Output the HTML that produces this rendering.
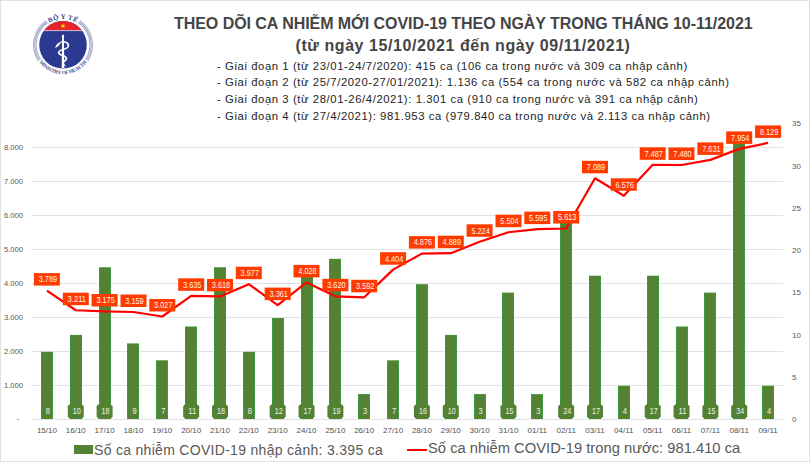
<!DOCTYPE html>
<html><head><meta charset="utf-8">
<style>
html,body{margin:0;padding:0;background:#fff;}
body{width:810px;height:462px;position:relative;overflow:hidden;font-family:"Liberation Sans",sans-serif;}
.frame{position:absolute;left:0;top:0;width:808px;height:460px;border:1px solid #e2e2e2;}
.t1{position:absolute;left:174px;top:14.8px;font-weight:bold;font-size:16px;letter-spacing:-0.05px;color:#454545;white-space:nowrap;}
.t2{position:absolute;left:295.5px;top:37px;font-weight:bold;font-size:16px;letter-spacing:0.57px;color:#454545;white-space:nowrap;}
.sub{position:absolute;left:217px;font-size:11.3px;letter-spacing:0.58px;color:#1e1e1e;white-space:nowrap;}
svg{position:absolute;left:0;top:0;}
.ax{font-size:8px;fill:#595959;}
.xl{font-size:8px;fill:#4f4f4f;}
.bl{font-size:8.5px;fill:#eef2e8;}
.ll{font-size:9px;fill:#fff3ee;}
.leg{position:absolute;top:441.3px;font-size:14px;color:#595959;white-space:nowrap;}
</style></head><body>
<div class="frame"></div>
<svg width="810" height="462" viewBox="0 0 810 462">
<g id="logo">
<defs>
<clipPath id="lc"><circle cx="63" cy="44.8" r="23.8"/></clipPath>
<path id="topArc" d="M37.2,44.8 A25.8,25.8 0 0 1 88.8,44.8"/>
<path id="botArc" d="M35.3,54.9 A29.5,29.5 0 0 0 90.7,54.9"/>
</defs>
<g fill="none" stroke="#a6abcb" stroke-width="1.05">
<path d="M47.57,22.76 A26.9,26.9 0 0 0 40.44,59.45"/>
<path d="M78.43,22.76 A26.9,26.9 0 0 1 85.56,59.45"/>
<path d="M46.83,21.70 A28.2,28.2 0 0 0 39.35,60.16"/>
<path d="M79.17,21.70 A28.2,28.2 0 0 1 86.65,60.16"/>
<path d="M46.08,20.64 A29.5,29.5 0 0 0 38.26,60.87"/>
<path d="M79.92,20.64 A29.5,29.5 0 0 1 87.74,60.87"/>
</g>
<circle cx="63" cy="44.8" r="23.8" fill="#2b3990"/>
<g clip-path="url(#lc)">
<rect x="38" y="20" width="50" height="10.2" fill="#e8242a"/>
<rect x="38" y="30.2" width="50" height="0.9" fill="#e6d0e0"/>
</g>
<path d="M63,23.3 l0.62,1.9 2,0 -1.62,1.18 0.62,1.9 -1.62,-1.18 -1.62,1.18 0.62,-1.9 -1.62,-1.18 2,0z" fill="#ffe600"/>
<text font-family="Liberation Serif" font-weight="bold" font-size="6.8" fill="#2f3b86" letter-spacing="0.3"><textPath href="#topArc" startOffset="50%" text-anchor="middle">BỘ Y TẾ</textPath></text>
<text font-family="Liberation Serif" font-weight="bold" font-size="5.2" fill="#45508f" letter-spacing="-0.15"><textPath href="#botArc" startOffset="50%" text-anchor="middle">MINISTRY OF HEALTH</textPath></text>
<path d="M62.1,36 L63.9,36 L64.3,68 L61.7,68 Z" fill="#fff"/>
<ellipse cx="63" cy="36.2" rx="1.15" ry="1.6" fill="#fff"/>
<path d="M61,41.8 C66,41.2 69.5,43.6 68,47 C66.5,50 58.5,49.2 58.6,52.6 C58.8,56 66.8,55 66.4,58.6 C66.2,61 63.5,61.5 62.5,62.5" fill="none" stroke="#fff" stroke-width="1.6"/>
<path d="M55,48 C55.8,44.6 58.5,42.4 61.2,41.8 C60.2,44.6 58,47 55,48z" fill="#fff"/>
<path d="M62,66 l2.5,-1.5 0.8,2" fill="none" stroke="#fff" stroke-width="0.9"/>
</g>

<rect x="32" y="385" width="751" height="1" fill="#e2e2e2"/>
<rect x="32" y="351" width="751" height="1" fill="#e2e2e2"/>
<rect x="32" y="317" width="751" height="1" fill="#e2e2e2"/>
<rect x="32" y="283" width="751" height="1" fill="#e2e2e2"/>
<rect x="32" y="249" width="751" height="1" fill="#e2e2e2"/>
<rect x="32" y="215" width="751" height="1" fill="#e2e2e2"/>
<rect x="32" y="181" width="751" height="1" fill="#e2e2e2"/>
<rect x="32" y="147" width="751" height="1" fill="#e2e2e2"/>
<text x="23" y="388.3" class="ax" text-anchor="end" textLength="19" lengthAdjust="spacingAndGlyphs">1.000</text>
<text x="23" y="354.2" class="ax" text-anchor="end" textLength="19" lengthAdjust="spacingAndGlyphs">2.000</text>
<text x="23" y="320.2" class="ax" text-anchor="end" textLength="19" lengthAdjust="spacingAndGlyphs">3.000</text>
<text x="23" y="286.2" class="ax" text-anchor="end" textLength="19" lengthAdjust="spacingAndGlyphs">4.000</text>
<text x="23" y="252.2" class="ax" text-anchor="end" textLength="19" lengthAdjust="spacingAndGlyphs">5.000</text>
<text x="23" y="218.2" class="ax" text-anchor="end" textLength="19" lengthAdjust="spacingAndGlyphs">6.000</text>
<text x="23" y="184.1" class="ax" text-anchor="end" textLength="19" lengthAdjust="spacingAndGlyphs">7.000</text>
<text x="23" y="150.1" class="ax" text-anchor="end" textLength="19" lengthAdjust="spacingAndGlyphs">8.000</text>
<text x="19.5" y="421.3" class="ax" text-anchor="end">-</text>
<text x="792" y="422.3" class="ax">0</text>
<text x="792" y="380.0" class="ax">5</text>
<text x="792" y="337.7" class="ax">10</text>
<text x="792" y="295.4" class="ax">15</text>
<text x="792" y="253.2" class="ax">20</text>
<text x="792" y="210.9" class="ax">25</text>
<text x="792" y="168.6" class="ax">30</text>
<text x="792" y="126.3" class="ax">35</text>
<rect x="41" y="351.8" width="12" height="67.2" fill="#3d9b3d"/>
<rect x="42" y="352.4" width="10" height="66.6" fill="#548235"/>
<rect x="70" y="334.9" width="12" height="84.1" fill="#3d9b3d"/>
<rect x="71" y="335.5" width="10" height="83.5" fill="#548235"/>
<rect x="99" y="267.3" width="12" height="151.7" fill="#3d9b3d"/>
<rect x="100" y="267.9" width="10" height="151.1" fill="#548235"/>
<rect x="127" y="343.4" width="12" height="75.6" fill="#3d9b3d"/>
<rect x="128" y="344.0" width="10" height="75.0" fill="#548235"/>
<rect x="156" y="360.3" width="12" height="58.7" fill="#3d9b3d"/>
<rect x="157" y="360.9" width="10" height="58.1" fill="#548235"/>
<rect x="185" y="326.5" width="12" height="92.5" fill="#3d9b3d"/>
<rect x="186" y="327.1" width="10" height="91.9" fill="#548235"/>
<rect x="214" y="267.3" width="12" height="151.7" fill="#3d9b3d"/>
<rect x="215" y="267.9" width="10" height="151.1" fill="#548235"/>
<rect x="243" y="351.8" width="12" height="67.2" fill="#3d9b3d"/>
<rect x="244" y="352.4" width="10" height="66.6" fill="#548235"/>
<rect x="272" y="318.0" width="12" height="101.0" fill="#3d9b3d"/>
<rect x="273" y="318.6" width="10" height="100.4" fill="#548235"/>
<rect x="301" y="275.7" width="12" height="143.3" fill="#3d9b3d"/>
<rect x="302" y="276.3" width="10" height="142.7" fill="#548235"/>
<rect x="329" y="258.8" width="12" height="160.2" fill="#3d9b3d"/>
<rect x="330" y="259.4" width="10" height="159.6" fill="#548235"/>
<rect x="358" y="394.1" width="12" height="24.9" fill="#3d9b3d"/>
<rect x="359" y="394.7" width="10" height="24.3" fill="#548235"/>
<rect x="387" y="360.3" width="12" height="58.7" fill="#3d9b3d"/>
<rect x="388" y="360.9" width="10" height="58.1" fill="#548235"/>
<rect x="416" y="284.2" width="12" height="134.8" fill="#3d9b3d"/>
<rect x="417" y="284.8" width="10" height="134.2" fill="#548235"/>
<rect x="445" y="334.9" width="12" height="84.1" fill="#3d9b3d"/>
<rect x="446" y="335.5" width="10" height="83.5" fill="#548235"/>
<rect x="474" y="394.1" width="12" height="24.9" fill="#3d9b3d"/>
<rect x="475" y="394.7" width="10" height="24.3" fill="#548235"/>
<rect x="502" y="292.6" width="12" height="126.4" fill="#3d9b3d"/>
<rect x="503" y="293.2" width="10" height="125.8" fill="#548235"/>
<rect x="531" y="394.1" width="12" height="24.9" fill="#3d9b3d"/>
<rect x="532" y="394.7" width="10" height="24.3" fill="#548235"/>
<rect x="560" y="216.5" width="12" height="202.5" fill="#3d9b3d"/>
<rect x="561" y="217.1" width="10" height="201.9" fill="#548235"/>
<rect x="589" y="275.7" width="12" height="143.3" fill="#3d9b3d"/>
<rect x="590" y="276.3" width="10" height="142.7" fill="#548235"/>
<rect x="618" y="385.7" width="12" height="33.3" fill="#3d9b3d"/>
<rect x="619" y="386.3" width="10" height="32.7" fill="#548235"/>
<rect x="647" y="275.7" width="12" height="143.3" fill="#3d9b3d"/>
<rect x="648" y="276.3" width="10" height="142.7" fill="#548235"/>
<rect x="676" y="326.5" width="12" height="92.5" fill="#3d9b3d"/>
<rect x="677" y="327.1" width="10" height="91.9" fill="#548235"/>
<rect x="704" y="292.6" width="12" height="126.4" fill="#3d9b3d"/>
<rect x="705" y="293.2" width="10" height="125.8" fill="#548235"/>
<rect x="733" y="133.0" width="12" height="286.0" fill="#3d9b3d"/>
<rect x="734" y="133.6" width="10" height="285.4" fill="#548235"/>
<rect x="762" y="385.7" width="12" height="33.3" fill="#3d9b3d"/>
<rect x="763" y="386.3" width="10" height="32.7" fill="#548235"/>
<rect x="32" y="419" width="751" height="1" fill="#e2e2e2"/>
<polyline points="46.92,290.58 75.77,310.25 104.62,311.47 133.46,312.02 162.31,316.51 191.15,295.82 220.00,296.40 248.85,284.18 277.69,305.14 306.54,282.45 335.38,296.33 364.23,297.28 393.08,269.65 421.92,253.59 450.77,253.15 479.62,241.75 508.46,232.23 537.31,229.13 566.15,228.52 595.00,178.30 623.85,195.75 652.69,164.75 681.54,164.99 710.38,159.86 739.23,148.87 768.08,142.91" fill="none" stroke="#f00" stroke-width="2.2" stroke-linejoin="round"/>
<text x="47.9" y="413.8" class="bl" text-anchor="middle" textLength="4.2" lengthAdjust="spacingAndGlyphs">8</text>
<path d="M69.97,404 H81.57 L83.77,406.2 V416.8 L81.57,419 H69.97 L67.77,416.8 V406.2 Z" fill="#548235"/>
<text x="76.8" y="413.8" class="bl" text-anchor="middle" textLength="8" lengthAdjust="spacingAndGlyphs">10</text>
<path d="M98.82,404 H110.42 L112.62,406.2 V416.8 L110.42,419 H98.82 L96.62,416.8 V406.2 Z" fill="#548235"/>
<text x="105.6" y="413.8" class="bl" text-anchor="middle" textLength="8" lengthAdjust="spacingAndGlyphs">18</text>
<text x="134.5" y="413.8" class="bl" text-anchor="middle" textLength="4.2" lengthAdjust="spacingAndGlyphs">9</text>
<text x="163.3" y="413.8" class="bl" text-anchor="middle" textLength="4.2" lengthAdjust="spacingAndGlyphs">7</text>
<path d="M185.35,404 H196.95 L199.15,406.2 V416.8 L196.95,419 H185.35 L183.15,416.8 V406.2 Z" fill="#548235"/>
<text x="192.2" y="413.8" class="bl" text-anchor="middle" textLength="8" lengthAdjust="spacingAndGlyphs">11</text>
<path d="M214.20,404 H225.80 L228.00,406.2 V416.8 L225.80,419 H214.20 L212.00,416.8 V406.2 Z" fill="#548235"/>
<text x="221.0" y="413.8" class="bl" text-anchor="middle" textLength="8" lengthAdjust="spacingAndGlyphs">18</text>
<text x="249.8" y="413.8" class="bl" text-anchor="middle" textLength="4.2" lengthAdjust="spacingAndGlyphs">8</text>
<path d="M271.89,404 H283.49 L285.69,406.2 V416.8 L283.49,419 H271.89 L269.69,416.8 V406.2 Z" fill="#548235"/>
<text x="278.7" y="413.8" class="bl" text-anchor="middle" textLength="8" lengthAdjust="spacingAndGlyphs">12</text>
<path d="M300.74,404 H312.34 L314.54,406.2 V416.8 L312.34,419 H300.74 L298.54,416.8 V406.2 Z" fill="#548235"/>
<text x="307.5" y="413.8" class="bl" text-anchor="middle" textLength="8" lengthAdjust="spacingAndGlyphs">17</text>
<path d="M329.58,404 H341.18 L343.38,406.2 V416.8 L341.18,419 H329.58 L327.38,416.8 V406.2 Z" fill="#548235"/>
<text x="336.4" y="413.8" class="bl" text-anchor="middle" textLength="8" lengthAdjust="spacingAndGlyphs">19</text>
<text x="365.2" y="413.8" class="bl" text-anchor="middle" textLength="4.2" lengthAdjust="spacingAndGlyphs">3</text>
<text x="394.1" y="413.8" class="bl" text-anchor="middle" textLength="4.2" lengthAdjust="spacingAndGlyphs">7</text>
<path d="M416.12,404 H427.72 L429.92,406.2 V416.8 L427.72,419 H416.12 L413.92,416.8 V406.2 Z" fill="#548235"/>
<text x="422.9" y="413.8" class="bl" text-anchor="middle" textLength="8" lengthAdjust="spacingAndGlyphs">16</text>
<path d="M444.97,404 H456.57 L458.77,406.2 V416.8 L456.57,419 H444.97 L442.77,416.8 V406.2 Z" fill="#548235"/>
<text x="451.8" y="413.8" class="bl" text-anchor="middle" textLength="8" lengthAdjust="spacingAndGlyphs">10</text>
<text x="480.6" y="413.8" class="bl" text-anchor="middle" textLength="4.2" lengthAdjust="spacingAndGlyphs">3</text>
<path d="M502.66,404 H514.26 L516.46,406.2 V416.8 L514.26,419 H502.66 L500.46,416.8 V406.2 Z" fill="#548235"/>
<text x="509.5" y="413.8" class="bl" text-anchor="middle" textLength="8" lengthAdjust="spacingAndGlyphs">15</text>
<text x="538.3" y="413.8" class="bl" text-anchor="middle" textLength="4.2" lengthAdjust="spacingAndGlyphs">3</text>
<path d="M560.35,404 H571.95 L574.15,406.2 V416.8 L571.95,419 H560.35 L558.15,416.8 V406.2 Z" fill="#548235"/>
<text x="567.2" y="413.8" class="bl" text-anchor="middle" textLength="8" lengthAdjust="spacingAndGlyphs">24</text>
<path d="M589.20,404 H600.80 L603.00,406.2 V416.8 L600.80,419 H589.20 L587.00,416.8 V406.2 Z" fill="#548235"/>
<text x="596.0" y="413.8" class="bl" text-anchor="middle" textLength="8" lengthAdjust="spacingAndGlyphs">17</text>
<text x="624.8" y="413.8" class="bl" text-anchor="middle" textLength="4.2" lengthAdjust="spacingAndGlyphs">4</text>
<path d="M646.89,404 H658.49 L660.69,406.2 V416.8 L658.49,419 H646.89 L644.69,416.8 V406.2 Z" fill="#548235"/>
<text x="653.7" y="413.8" class="bl" text-anchor="middle" textLength="8" lengthAdjust="spacingAndGlyphs">17</text>
<path d="M675.74,404 H687.34 L689.54,406.2 V416.8 L687.34,419 H675.74 L673.54,416.8 V406.2 Z" fill="#548235"/>
<text x="682.5" y="413.8" class="bl" text-anchor="middle" textLength="8" lengthAdjust="spacingAndGlyphs">11</text>
<path d="M704.58,404 H716.18 L718.38,406.2 V416.8 L716.18,419 H704.58 L702.38,416.8 V406.2 Z" fill="#548235"/>
<text x="711.4" y="413.8" class="bl" text-anchor="middle" textLength="8" lengthAdjust="spacingAndGlyphs">15</text>
<path d="M733.43,404 H745.03 L747.23,406.2 V416.8 L745.03,419 H733.43 L731.23,416.8 V406.2 Z" fill="#548235"/>
<text x="740.2" y="413.8" class="bl" text-anchor="middle" textLength="8" lengthAdjust="spacingAndGlyphs">34</text>
<text x="769.1" y="413.8" class="bl" text-anchor="middle" textLength="4.2" lengthAdjust="spacingAndGlyphs">4</text>
<rect x="33.9" y="273.1" width="26" height="12.5" fill="#ff3b00"/>
<text x="47.9" y="282.4" class="ll" text-anchor="middle" textLength="18.4" lengthAdjust="spacingAndGlyphs">3.789</text>
<rect x="62.8" y="292.7" width="26" height="12.5" fill="#ff3b00"/>
<text x="76.8" y="302.0" class="ll" text-anchor="middle" textLength="18.4" lengthAdjust="spacingAndGlyphs">3.211</text>
<rect x="91.6" y="294.0" width="26" height="12.5" fill="#ff3b00"/>
<text x="105.6" y="303.3" class="ll" text-anchor="middle" textLength="18.4" lengthAdjust="spacingAndGlyphs">3.175</text>
<rect x="120.5" y="294.5" width="26" height="12.5" fill="#ff3b00"/>
<text x="134.5" y="303.8" class="ll" text-anchor="middle" textLength="18.4" lengthAdjust="spacingAndGlyphs">3.159</text>
<rect x="149.3" y="299.0" width="26" height="12.5" fill="#ff3b00"/>
<text x="163.3" y="308.3" class="ll" text-anchor="middle" textLength="18.4" lengthAdjust="spacingAndGlyphs">3.027</text>
<rect x="178.2" y="278.3" width="26" height="12.5" fill="#ff3b00"/>
<text x="192.2" y="287.6" class="ll" text-anchor="middle" textLength="18.4" lengthAdjust="spacingAndGlyphs">3.635</text>
<rect x="207.0" y="278.9" width="26" height="12.5" fill="#ff3b00"/>
<text x="221.0" y="288.2" class="ll" text-anchor="middle" textLength="18.4" lengthAdjust="spacingAndGlyphs">3.618</text>
<rect x="235.8" y="266.7" width="26" height="12.5" fill="#ff3b00"/>
<text x="249.8" y="276.0" class="ll" text-anchor="middle" textLength="18.4" lengthAdjust="spacingAndGlyphs">3.977</text>
<rect x="264.7" y="287.6" width="26" height="12.5" fill="#ff3b00"/>
<text x="278.7" y="296.9" class="ll" text-anchor="middle" textLength="18.4" lengthAdjust="spacingAndGlyphs">3.361</text>
<rect x="293.5" y="264.9" width="26" height="12.5" fill="#ff3b00"/>
<text x="307.5" y="274.2" class="ll" text-anchor="middle" textLength="18.4" lengthAdjust="spacingAndGlyphs">4.028</text>
<rect x="322.4" y="278.8" width="26" height="12.5" fill="#ff3b00"/>
<text x="336.4" y="288.1" class="ll" text-anchor="middle" textLength="18.4" lengthAdjust="spacingAndGlyphs">3.620</text>
<rect x="351.2" y="279.8" width="26" height="12.5" fill="#ff3b00"/>
<text x="365.2" y="289.1" class="ll" text-anchor="middle" textLength="18.4" lengthAdjust="spacingAndGlyphs">3.592</text>
<rect x="380.1" y="252.2" width="26" height="12.5" fill="#ff3b00"/>
<text x="394.1" y="261.5" class="ll" text-anchor="middle" textLength="18.4" lengthAdjust="spacingAndGlyphs">4.404</text>
<rect x="408.9" y="236.1" width="26" height="12.5" fill="#ff3b00"/>
<text x="422.9" y="245.4" class="ll" text-anchor="middle" textLength="18.4" lengthAdjust="spacingAndGlyphs">4.876</text>
<rect x="437.8" y="235.7" width="26" height="12.5" fill="#ff3b00"/>
<text x="451.8" y="245.0" class="ll" text-anchor="middle" textLength="18.4" lengthAdjust="spacingAndGlyphs">4.889</text>
<rect x="466.6" y="224.3" width="26" height="12.5" fill="#ff3b00"/>
<text x="480.6" y="233.6" class="ll" text-anchor="middle" textLength="18.4" lengthAdjust="spacingAndGlyphs">5.224</text>
<rect x="495.5" y="214.7" width="26" height="12.5" fill="#ff3b00"/>
<text x="509.5" y="224.0" class="ll" text-anchor="middle" textLength="18.4" lengthAdjust="spacingAndGlyphs">5.504</text>
<rect x="524.3" y="211.6" width="26" height="12.5" fill="#ff3b00"/>
<text x="538.3" y="220.9" class="ll" text-anchor="middle" textLength="18.4" lengthAdjust="spacingAndGlyphs">5.595</text>
<rect x="553.2" y="211.0" width="26" height="12.5" fill="#ff3b00"/>
<text x="567.2" y="220.3" class="ll" text-anchor="middle" textLength="18.4" lengthAdjust="spacingAndGlyphs">5.613</text>
<rect x="582.0" y="160.8" width="26" height="12.5" fill="#ff3b00"/>
<text x="596.0" y="170.1" class="ll" text-anchor="middle" textLength="18.4" lengthAdjust="spacingAndGlyphs">7.089</text>
<rect x="610.8" y="178.3" width="26" height="12.5" fill="#ff3b00"/>
<text x="624.8" y="187.6" class="ll" text-anchor="middle" textLength="18.4" lengthAdjust="spacingAndGlyphs">6.576</text>
<rect x="639.7" y="147.3" width="26" height="12.5" fill="#ff3b00"/>
<text x="653.7" y="156.6" class="ll" text-anchor="middle" textLength="18.4" lengthAdjust="spacingAndGlyphs">7.487</text>
<rect x="668.5" y="147.5" width="26" height="12.5" fill="#ff3b00"/>
<text x="682.5" y="156.8" class="ll" text-anchor="middle" textLength="18.4" lengthAdjust="spacingAndGlyphs">7.480</text>
<rect x="697.4" y="142.4" width="26" height="12.5" fill="#ff3b00"/>
<text x="711.4" y="151.7" class="ll" text-anchor="middle" textLength="18.4" lengthAdjust="spacingAndGlyphs">7.631</text>
<rect x="726.2" y="131.4" width="26" height="12.5" fill="#ff3b00"/>
<text x="740.2" y="140.7" class="ll" text-anchor="middle" textLength="18.4" lengthAdjust="spacingAndGlyphs">7.954</text>
<rect x="755.1" y="125.4" width="26" height="12.5" fill="#ff3b00"/>
<text x="769.1" y="134.7" class="ll" text-anchor="middle" textLength="18.4" lengthAdjust="spacingAndGlyphs">8.129</text>
<text x="46.9" y="433" class="xl" text-anchor="middle">15/10</text>
<text x="75.8" y="433" class="xl" text-anchor="middle">16/10</text>
<text x="104.6" y="433" class="xl" text-anchor="middle">17/10</text>
<text x="133.5" y="433" class="xl" text-anchor="middle">18/10</text>
<text x="162.3" y="433" class="xl" text-anchor="middle">19/10</text>
<text x="191.2" y="433" class="xl" text-anchor="middle">20/10</text>
<text x="220.0" y="433" class="xl" text-anchor="middle">21/10</text>
<text x="248.8" y="433" class="xl" text-anchor="middle">22/10</text>
<text x="277.7" y="433" class="xl" text-anchor="middle">23/10</text>
<text x="306.5" y="433" class="xl" text-anchor="middle">24/10</text>
<text x="335.4" y="433" class="xl" text-anchor="middle">25/10</text>
<text x="364.2" y="433" class="xl" text-anchor="middle">26/10</text>
<text x="393.1" y="433" class="xl" text-anchor="middle">27/10</text>
<text x="421.9" y="433" class="xl" text-anchor="middle">28/10</text>
<text x="450.8" y="433" class="xl" text-anchor="middle">29/10</text>
<text x="479.6" y="433" class="xl" text-anchor="middle">30/10</text>
<text x="508.5" y="433" class="xl" text-anchor="middle">31/10</text>
<text x="537.3" y="433" class="xl" text-anchor="middle">01/11</text>
<text x="566.2" y="433" class="xl" text-anchor="middle">02/11</text>
<text x="595.0" y="433" class="xl" text-anchor="middle">03/11</text>
<text x="623.8" y="433" class="xl" text-anchor="middle">04/11</text>
<text x="652.7" y="433" class="xl" text-anchor="middle">05/11</text>
<text x="681.5" y="433" class="xl" text-anchor="middle">06/11</text>
<text x="710.4" y="433" class="xl" text-anchor="middle">07/11</text>
<text x="739.2" y="433" class="xl" text-anchor="middle">08/11</text>
<text x="768.1" y="433" class="xl" text-anchor="middle">09/11</text>
</svg>
<div class="t1">THEO DÕI CA NHIỄM MỚI COVID-19 THEO NGÀY TRONG THÁNG 10-11/2021</div>
<div class="t2">(từ ngày 15/10/2021 đến ngày 09/11/2021)</div>
<div class="sub" style="top:59.6px">- Giai đoạn 1 (từ 23/01-24/7/2020): 415 ca (106 ca trong nước và 309 ca nhập cảnh)</div>
<div class="sub" style="top:76.4px">- Giai đoạn 2 (từ 25/7/2020-27/01/2021): 1.136 ca (554 ca trong nước và 582 ca nhập cảnh)</div>
<div class="sub" style="top:93.4px">- Giai đoạn 3 (từ 28/01-26/4/2021): 1.301 ca (910 ca trong nước và 391 ca nhập cảnh)</div>
<div class="sub" style="top:110.1px">- Giai đoạn 4 (từ 27/4/2021): 981.953 ca (979.840 ca trong nước và 2.113 ca nhập cảnh)</div>
<div style="position:absolute;left:74px;top:444.5px;width:19px;height:9.6px;background:#548235;"></div>
<div class="leg" style="left:94px;top:441.8px;letter-spacing:0.3px">Số ca nhiễm COVID-19 nhập cảnh: 3.395 ca</div>
<div style="position:absolute;left:407.3px;top:448.6px;width:19.7px;height:2px;background:#f00;"></div>
<div class="leg" style="left:428px;font-size:14.75px;top:440.3px">Số ca nhiễm COVID-19 trong nước: 981.410 ca</div>
</body></html>
